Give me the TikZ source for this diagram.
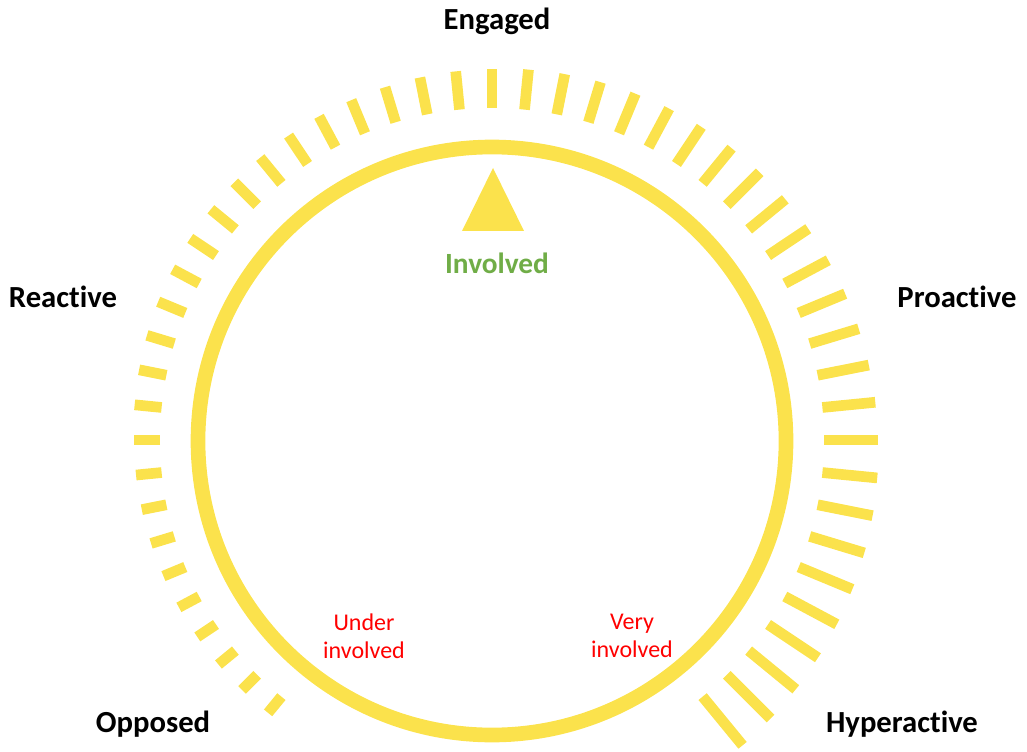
\documentclass[tikz,border=0pt]{standalone}
\usepackage{fontspec}
\setmainfont{Carlito}[Ligatures={NoCommon}]
\usetikzlibrary{calc}
\definecolor{dialyellow}{RGB}{251,226,76}
\definecolor{involvedgreen}{RGB}{112,173,71}
\definecolor{labelred}{RGB}{255,0,0}
\begin{document}
\begin{tikzpicture}[x=0.75pt,y=0.75pt,
  ring/.style={draw=dialyellow,line width=11pt},
  tickmark/.style={draw=dialyellow,line width=8pt},
  lab/.style={font=\fontsize{23}{27}\selectfont\bfseries,text=black,inner sep=0pt},
  midlab/.style={font=\fontsize{22}{26}\selectfont\bfseries,text=involvedgreen,inner sep=0pt},
  redlab/.style={font=\fontsize{18}{21}\selectfont,text=labelred,align=center,inner sep=0pt}]
\useasboundingbox (0,0) rectangle (1027,751);
\coordinate (c) at (492,311);
\coordinate (rc) at (492,310);
\draw[ring] (rc) circle[radius=294];
\foreach \i in {0,...,50}{
  \pgfmathsetmacro\ang{230.625-5.625*\i}
  \pgfmathsetmacro\rout{332+21+42*pow(\i/50+0.0001,1.2)}
  \draw[tickmark] ($(c)+(\ang:332)$) -- ($(c)+(\ang:\rout)$);
}
\fill[dialyellow] (493,583) -- (462,520) -- (524,520) -- cycle;
\node[lab] (engaged) at (497,730) {Engaged};
\node[lab] (reactive) at (63,454) {Reactive};
\node[lab] (proactive) at (957,454) {Proactive};
\node[lab] (opposed) at (153,27) {Opposed};
\node[lab] (hyper) at (902,27) {Hyperactive};
\node[midlab] (involved) at (497,488) {Involved};
\node[redlab] (under) at (364,115) {Under\\involved};
\node[redlab] (very) at (632,115) {Very\\involved};
\end{tikzpicture}
\end{document}
